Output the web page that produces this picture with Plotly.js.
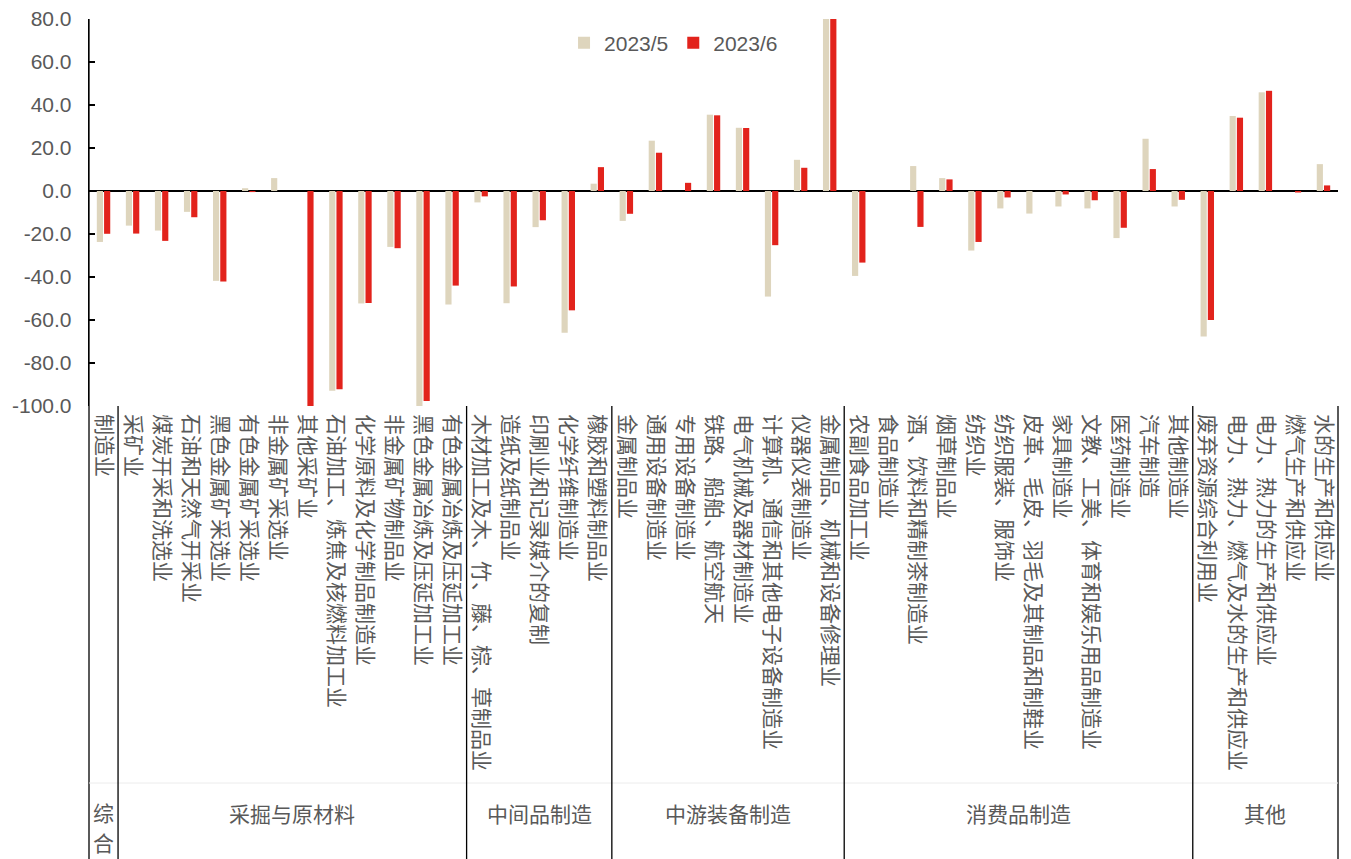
<!DOCTYPE html>
<html>
<head>
<meta charset="utf-8">
<script src="https://cdn.plot.ly/plotly-3.0.1.min.js"></script>
<style>
  html, body { margin: 0; padding: 0; background: #fff; }
  #chart { width: 1351px; height: 859px; }
</style>
</head>
<body>
<div id="chart"></div>
<script>
// Industry categories, in display order
const categories = [
  "制造业",
  "采矿业", "煤炭开采和洗选业", "石油和天然气开采业", "黑色金属矿采选业", "有色金属矿采选业",
  "非金属矿采选业", "其他采矿业", "石油加工、炼焦及核燃料加工业", "化学原料及化学制品制造业",
  "非金属矿物制品业", "黑色金属冶炼及压延加工业", "有色金属冶炼及压延加工业",
  "木材加工及木、竹、藤、棕、草制品业", "造纸及纸制品业", "印刷业和记录媒介的复制",
  "化学纤维制造业", "橡胶和塑料制品业",
  "金属制品业", "通用设备制造业", "专用设备制造业", "铁路、船舶、航空航天",
  "电气机械及器材制造业", "计算机、通信和其他电子设备制造业", "仪器仪表制造业",
  "金属制品、机械和设备修理业",
  "农副食品加工业", "食品制造业", "酒、饮料和精制茶制造业", "烟草制品业", "纺织业",
  "纺织服装、服饰业", "皮革、毛皮、羽毛及其制品和制鞋业", "家具制造业",
  "文教、工美、体育和娱乐用品制造业", "医药制造业", "汽车制造", "其他制造业",
  "废弃资源综合利用业", "电力、热力、燃气及水的生产和供应业", "电力、热力的生产和供应业",
  "燃气生产和供应业", "水的生产和供应业"
];

// Sector groups and how many categories each one spans
const groupNames = ["综合", "采掘与原材料", "中间品制造", "中游装备制造", "消费品制造", "其他"];
const groupSizes = [1, 12, 5, 8, 12, 5];

// Series values (%)
const series2023_5 = [
  -23.7, -16.1, -18.4, -9.7, -41.8, 1.3, 6.0, null, -92.9, -52.3, -26.0, -101.2, -52.8,
  -5.3, -52.2, -16.8, -65.9, 3.4,
  -13.9, 23.4, 0, 35.5, 29.4, -49.1, 14.5, 80.0,
  -39.5, 0, 11.6, 6.0, -27.7, -8.1, -10.5, -7.2, -8.1, -21.9, 24.3, -7.2,
  -67.7, 34.9, 45.9, 0, 12.5
];
const series2023_6 = [
  -19.9, -19.8, -23.2, -12.2, -42.1, -0.5, 0, -100.0, -92.2, -52.1, -26.6, -97.7, -44.0,
  -2.5, -44.4, -13.6, -55.5, 11.1,
  -10.6, 17.8, 3.8, 35.2, 29.3, -25.2, 10.8, 80.0,
  -33.3, 0, -16.7, 5.4, -23.7, -3.0, 0, -1.6, -4.3, -17.1, 10.2, -4.1,
  -60.0, 34.1, 46.6, -0.7, 2.6
];

const seriesNames = ["2023/5", "2023/6"];
const yTicks = [80, 60, 40, 20, 0, -20, -40, -60, -80, -100];

const TEXT = "#595959";
const CJK = "Noto Sans CJK SC, sans-serif";
const LATIN = "Liberation Sans, Arial, sans-serif";

const traces = [
  { type: "bar", name: seriesNames[0], x: categories, y: series2023_5,
    marker: { color: "#DED5BD" }, hoverinfo: "x+y" },
  { type: "bar", name: seriesNames[1], x: categories, y: series2023_6,
    marker: { color: "#E2231C" }, hoverinfo: "x+y" }
];

// Plot-area geometry in paper units: the label table sits below the plot
const PLOT_H = 387;
const toPaperY = px => -px / PLOT_H;   // px measured downward from the plot bottom
const tableBottom = toPaperY(453);

const shapes = [];
const annotations = [];
const lineStyle = { color: "#000", width: 1.3 };

// outer edges of the label table
shapes.push({ type: "line", xref: "paper", yref: "paper", x0: 0, x1: 0, y0: 1, y1: tableBottom, line: lineStyle });
shapes.push({ type: "line", xref: "paper", yref: "paper", x0: 1, x1: 1, y0: 0, y1: tableBottom, line: lineStyle });
// faint rule between category labels and group names
shapes.push({ type: "line", xref: "paper", yref: "paper", x0: 0, x1: 1, y0: toPaperY(377), y1: toPaperY(377),
  line: { color: "#ececec", width: 1 } });

const groupFont = { family: CJK, size: 21, color: TEXT };
let start = 0;
groupSizes.forEach((n, i) => {
  const end = start + n;
  if (i < groupSizes.length - 1) {
    shapes.push({ type: "line", xref: "x", yref: "paper", x0: end - 0.5, x1: end - 0.5,
      y0: 0, y1: tableBottom, line: lineStyle });
  }
  const cx = start + (n - 1) / 2;
  if (n === 1) {
    // a one-column group is too narrow: stack its name one character per line
    Array.from(groupNames[i]).forEach((ch, k) => {
      annotations.push({
        xref: "x", yref: "paper", x: cx, y: toPaperY(406 + 30 * k),
        xanchor: "center", yanchor: "middle", text: ch, showarrow: false,
        borderpad: 0, font: groupFont
      });
    });
  } else {
    annotations.push({
      xref: "x", yref: "paper", x: cx, y: toPaperY(407),
      xanchor: "center", yanchor: "middle", text: groupNames[i], showarrow: false, font: groupFont
    });
  }
  start = end;
});

const layout = {
  width: 1351, height: 859,
  margin: { l: 89, r: 13, t: 19, b: 453 },
  paper_bgcolor: "#fff", plot_bgcolor: "#fff",
  barmode: "group", bargap: 0.5, bargroupgap: 0.15,
  showlegend: true,
  legend: {
    orientation: "h", x: 0.468, xanchor: "center", y: 0.938, yanchor: "middle",
    font: { family: LATIN, size: 21, color: TEXT }, bgcolor: "rgba(0,0,0,0)"
  },
  xaxis: {
    type: "category", showgrid: false, showline: false, ticks: "",
    tickangle: 90, tickfont: { family: CJK, size: 21, color: TEXT },
    ticklabelstandoff: 7, automargin: false
  },
  yaxis: {
    range: [-100, 80], tickvals: yTicks, ticktext: yTicks.map(v => v.toFixed(1)),
    showgrid: false, showline: true, linecolor: "#000", linewidth: 1.3,
    ticks: "inside", ticklen: 6, tickcolor: "#000", tickwidth: 1.3,
    zeroline: true, zerolinecolor: "#000", zerolinewidth: 2,
    tickfont: { family: LATIN, size: 21, color: TEXT },
    ticklabelstandoff: 12, automargin: false
  },
  shapes: shapes,
  annotations: annotations
};

Plotly.newPlot("chart", traces, layout, { displayModeBar: false, staticPlot: true });
</script>
</body>
</html>
